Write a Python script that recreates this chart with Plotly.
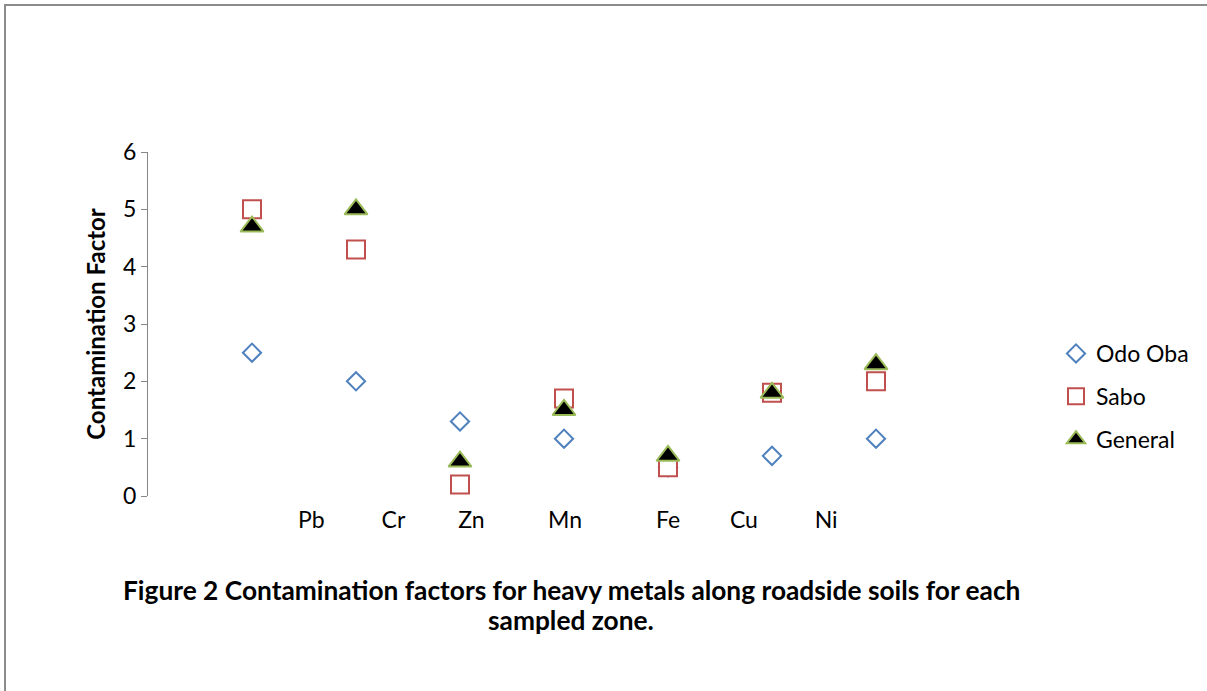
import plotly.graph_objects as go

# Data
metals = ["Pb", "Cr", "Zn", "Mn", "Fe", "Cu", "Ni"]
x_index = [1, 2, 3, 4, 5, 6, 7]
odo_oba = [2.5, 2.0, 1.3, 1.0, 0.5, 0.7, 1.0]
sabo = [5.0, 4.3, 0.2, 1.7, 0.5, 1.8, 2.0]
general = [4.7, 5.0, 0.6, 1.5, 0.7, 1.8, 2.3]
y_ticks = [0, 1, 2, 3, 4, 5, 6]

# Label placement (layout only): the category labels sit offset from the markers
label_pos = [1.57, 2.36, 3.11, 4.01, 5.0, 5.73, 6.52]

FONT = "Lato, 'Open Sans', sans-serif"

fig = go.Figure()
fig.add_trace(go.Scatter(
    x=x_index, y=odo_oba, mode="markers", name="Odo Oba", legendgroup="a",
    marker=dict(symbol="diamond", size=14, color="rgba(255,255,255,1)",
                line=dict(color="#4F81BD", width=2))))
fig.add_trace(go.Scatter(
    x=x_index, y=sabo, mode="markers", name="Sabo", legendgroup="b",
    marker=dict(symbol="square", size=18, color="rgba(255,255,255,1)",
                line=dict(color="#C0504D", width=2))))
fig.add_trace(go.Scatter(
    x=x_index, y=general, mode="markers", name="General", legendgroup="c",
    marker=dict(symbol="triangle-up", size=20, color="black",
                line=dict(color="#9BBB59", width=2))))

W, H = 1207, 691
L, R, T, B = 148, 980, 152, 496
pw, ph = R - L, B - T

def px(xp):
    return (xp - L) / pw

def py(yp):
    return (B - yp) / ph

fig.update_layout(
    width=W, height=H,
    margin=dict(l=L, r=W - R, t=T, b=H - B, autoexpand=False),
    paper_bgcolor="white", plot_bgcolor="white",
    font=dict(family=FONT, size=23, color="black"),
    showlegend=True,
    legend=dict(x=px(1056), y=py(332), xanchor="left", yanchor="top",
                font=dict(family=FONT, size=23, color="black"),
                tracegroupgap=10, traceorder="grouped",
                itemwidth=30, bgcolor="rgba(0,0,0,0)"),
    xaxis=dict(range=[0, 8], showgrid=False, zeroline=False, showline=False,
               tickmode="array", tickvals=label_pos, ticktext=metals,
               ticks="", tickfont=dict(family=FONT, size=23, color="black"),
               ticklabelstandoff=8),
    yaxis=dict(range=[0, 6], tickvals=y_ticks, showgrid=False, zeroline=False,
               showline=True, linecolor="#868686", linewidth=1,
               ticks="outside", ticklen=6, tickcolor="#868686",
               tickfont=dict(family=FONT, size=23, color="black"),
               title=dict(text="<b>Contamination Factor</b>",
                          font=dict(family=FONT, size=24, color="black"),
                          standoff=10)),
    shapes=[dict(type="rect", xref="paper", yref="paper",
                 x0=px(5), x1=px(1240), y0=py(730), y1=py(5),
                 line=dict(color="#8C8C8C", width=2), fillcolor="rgba(0,0,0,0)",
                 layer="below")],
    annotations=[
        dict(xref="paper", yref="paper", x=px(571), y=py(590),
             text="<b>Figure 2 Contamination factors for heavy metals along roadside soils for each</b>",
             showarrow=False, font=dict(family=FONT, size=26.3, color="black"),
             xanchor="center", yanchor="middle"),
        dict(xref="paper", yref="paper", x=px(571), y=py(620),
             text="<b>sampled zone.</b>",
             showarrow=False, font=dict(family=FONT, size=26.3, color="black"),
             xanchor="center", yanchor="middle"),
    ],
)

fig.write_html("out.html", config={"displayModeBar": False},
               post_script="document.body.style.margin='0';document.body.style.overflow='hidden';")
